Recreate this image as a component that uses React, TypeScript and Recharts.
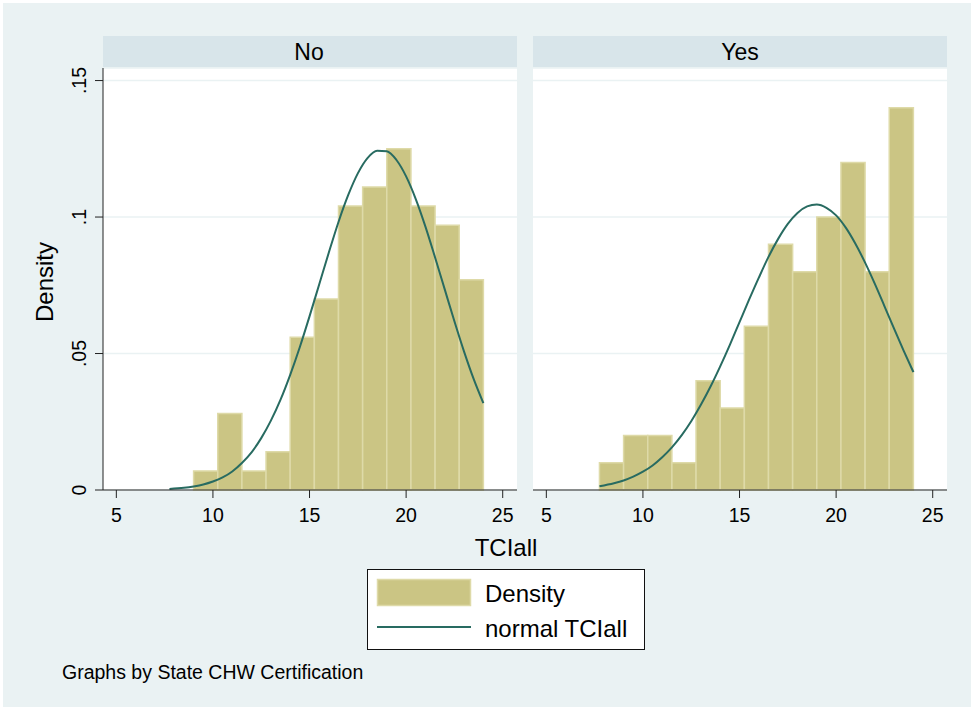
import { ComposedChart, Line, XAxis, YAxis, CartesianGrid, ReferenceArea } from 'recharts';

// histogram bins of TCIall (shared by both panels)
const binEdges = [7.75, 9, 10.25, 11.5, 12.75, 14, 15.25, 16.5, 17.75, 19, 20.25, 21.5, 22.75, 24];
const noDensity = [0, 0.007, 0.028, 0.007, 0.014, 0.056, 0.07, 0.104, 0.111, 0.125, 0.104, 0.097, 0.077];
const yesDensity = [0.01, 0.02, 0.02, 0.01, 0.04, 0.03, 0.06, 0.09, 0.08, 0.1, 0.12, 0.08, 0.14];

// normal overlay, sampled along TCIall
const curveX = [
  7.75, 8.5, 9, 9.5, 10, 10.5, 11, 11.5, 12, 12.5, 13, 13.5, 14, 14.5, 15, 15.5, 16,
  16.5, 17, 17.5, 18, 18.5, 19, 19.5, 20, 20.5, 21, 21.5, 22, 22.5, 23, 23.5, 24,
];
const noCurve = [
  0.0004, 0.0008, 0.0013, 0.002, 0.0031, 0.0046, 0.0068, 0.0099, 0.0138, 0.019, 0.0254,
  0.0331, 0.0422, 0.0524, 0.0636, 0.0753, 0.087, 0.0982, 0.108, 0.116, 0.1216, 0.1243,
  0.1241, 0.1209, 0.1149, 0.1066, 0.0965, 0.0852, 0.0735, 0.0618, 0.0507, 0.0406, 0.0318,
];
const yesCurve = [
  0.0014, 0.0025, 0.0035, 0.0049, 0.0067, 0.009, 0.012, 0.0156, 0.02, 0.0252, 0.0312,
  0.0379, 0.0453, 0.0532, 0.0615, 0.0698, 0.0778, 0.0854, 0.092, 0.0975, 0.1015, 0.1039,
  0.1046, 0.1034, 0.1006, 0.0961, 0.0902, 0.0833, 0.0756, 0.0674, 0.0591, 0.051, 0.0432,
];

const xTicks = [5, 10, 15, 20, 25];
const yTicks = [0, 0.05, 0.1, 0.15];
const panelTitles = ['No', 'Yes'];

const curveRows = curveX.map((x, i) => ({ x, no: noCurve[i], yes: yesCurve[i] }));

const FONT = '"Liberation Sans", Arial, sans-serif';
const BG = '#EAF2F3';
const STRIP = '#D8E5EA';
const BAR = '#CBC584';
const BAR_EDGE = '#DEDAA8';
const LINE = '#286B61';
const AXIS = '#222';

const fmtY = (v: number) => (v === 0 ? '0' : String(v).replace('0.', '.'));

const YTick = (props: any) => {
  const { x, y, payload } = props;
  return (
    <text
      x={x}
      y={y}
      transform={`rotate(-90 ${x} ${y})`}
      textAnchor="middle"
      fontSize={19.5}
      fontFamily={FONT}
      fill="#000"
    >
      {fmtY(payload.value)}
    </text>
  );
};

function Panel({ densities, series, showY, left, width, marginLeft, marginRight }: any) {
  return (
    <div style={{ position: 'absolute', left, top: 0 }}>
      <ComposedChart
        width={width}
        height={530}
        data={curveRows}
        margin={{ top: 68, right: marginRight, bottom: 0, left: marginLeft }}
      >
        <CartesianGrid vertical={false} stroke={BG} strokeWidth={1.5} fill="#fff" fillOpacity={1} />
        <XAxis
          dataKey="x"
          type="number"
          domain={[4.31, 25.74]}
          ticks={xTicks}
          allowDataOverflow
          height={40}
          stroke={AXIS}
          tickSize={8}
          tickMargin={10}
          tick={{ fontSize: 19.5, fill: '#000', fontFamily: FONT }}
        />
        <YAxis
          type="number"
          domain={[0, 0.1546]}
          ticks={yTicks}
          allowDataOverflow
          hide={!showY}
          width={103}
          stroke={AXIS}
          tickSize={8}
          tickMargin={9}
          tick={<YTick />}
        />
        {densities.map((d: number, i: number) =>
          d > 0 ? (
            <ReferenceArea
              key={i}
              x1={binEdges[i]}
              x2={binEdges[i + 1]}
              y1={0}
              y2={d}
              fill={BAR}
              fillOpacity={1}
              stroke={BAR_EDGE}
              strokeWidth={1.5}
              strokeOpacity={1}
            />
          ) : null
        )}
        <Line
          dataKey={series}
          type="monotone"
          stroke={LINE}
          strokeWidth={2}
          dot={false}
          isAnimationActive={false}
        />
      </ComposedChart>
    </div>
  );
}

export default function App() {
  return (
    <div
      style={{
        position: 'fixed',
        left: 0,
        top: 0,
        width: 974,
        height: 710,
        background: '#fff',
        fontFamily: FONT,
        overflow: 'hidden',
      }}
    >
      <div style={{ position: 'absolute', left: 3, top: 3, right: 3, bottom: 3, background: BG }} />

      <Panel densities={noDensity} series="no" showY left={0} width={525} marginLeft={0} marginRight={8} />
      <Panel densities={yesDensity} series="yes" showY={false} left={525} width={449} marginLeft={8} marginRight={27} />

      <svg
        width={974}
        height={710}
        style={{ position: 'absolute', left: 0, top: 0, pointerEvents: 'none' }}
        fontFamily={FONT}
      >
        {/* panel strips */}
        <rect x={103} y={36} width={414} height={31} fill={STRIP} />
        <rect x={533} y={36} width={414} height={31} fill={STRIP} />
        <text x={309} y={60} textAnchor="middle" fontSize={23}>
          {panelTitles[0]}
        </text>
        <text x={740} y={60} textAnchor="middle" fontSize={23}>
          {panelTitles[1]}
        </text>

        {/* axis titles */}
        <text x={53} y={282} transform="rotate(-90 53 282)" textAnchor="middle" fontSize={24}>
          Density
        </text>
        <text x={506} y={556} textAnchor="middle" fontSize={24}>
          TCIall
        </text>

        {/* legend */}
        <rect x={367.5} y={569.5} width={277} height={80} fill="#fff" stroke="#111" strokeWidth={1} />
        <rect x={377.5} y={579.5} width={93} height={26} fill={BAR} stroke={BAR_EDGE} strokeWidth={1.5} />
        <text x={485} y={602} fontSize={24}>
          Density
        </text>
        <line x1={377} y1={627} x2={471} y2={627} stroke={LINE} strokeWidth={2} />
        <text x={485} y={637} fontSize={24}>
          normal TCIall
        </text>

        <text x={62} y={679} fontSize={19.5}>
          Graphs by State CHW Certification
        </text>
      </svg>
    </div>
  );
}
